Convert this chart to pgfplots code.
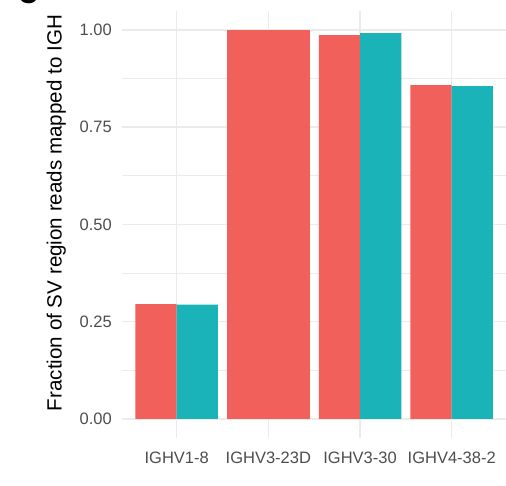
\documentclass[border=0pt]{standalone}
\usepackage{pgfplots}
\pgfplotsset{compat=1.18}
\usepackage{fontspec}
\setmainfont{Liberation Sans}
\definecolor{ggred}{HTML}{F2605C}
\definecolor{ggteal}{HTML}{1AB3B8}
\definecolor{gridc}{HTML}{EBEBEB}
\definecolor{tickc}{HTML}{4D4D4D}
\begin{document}
\begin{tikzpicture}[x=1pt,y=1pt]
\useasboundingbox (0,0) rectangle (506,486);
\begin{axis}[
  at={(121.7pt,47.55pt)}, anchor=south west,
  scale only axis, width=385pt, height=427.9pt,
  xmin=0.4, xmax=4.6, ymin=-0.05, ymax=1.05,
  axis line style={draw=none},
  major tick length=0pt, minor tick length=0pt,
  xtick={1,2,3,4},
  xticklabels={IGHV1-8,IGHV3-23D,IGHV3-30,IGHV4-38-2},
  ytick={0,0.25,0.5,0.75,1},
  minor ytick={0.125,0.375,0.625,0.875},
  xmajorgrids, ymajorgrids, yminorgrids,
  major grid style={gridc, line width=1.5pt},
  minor grid style={gridc, line width=0.75pt},
  /pgf/number format/assume math mode=true,
  yticklabel={\pgfmathprintnumber[fixed,fixed zerofill,precision=2]{\tick}},
  yticklabel style={anchor=east, inner sep=0pt, xshift=-9.7pt, text=tickc, font=\fontsize{16.5}{16.5}\selectfont},
  xticklabel style={anchor=base, inner sep=0pt, yshift=-24.8pt, text=tickc, font=\fontsize{16.5}{16.5}\selectfont},
  ybar, bar width=41.25pt,
  clip=false,
]
\addplot[fill=ggred, draw=none, bar shift=-20.625pt] coordinates {(1,0.2956) (3,0.987) (4,0.858)};
\addplot[fill=ggteal, draw=none, bar shift=20.625pt] coordinates {(1,0.2939) (3,0.992) (4,0.856)};
\addplot[fill=ggred, draw=none, bar width=82.5pt, bar shift=0pt] coordinates {(2,1.0)};
\end{axis}
\node[rotate=90, anchor=base, inner sep=0pt, font=\fontsize{20.6}{20.6}\selectfont] at (61.7,273) {Fraction of SV region reads mapped to IGH};
\node[anchor=base, inner sep=0pt, font=\bfseries\fontsize{28}{28}\selectfont] at (28,482) {C};
\end{tikzpicture}
\end{document}
